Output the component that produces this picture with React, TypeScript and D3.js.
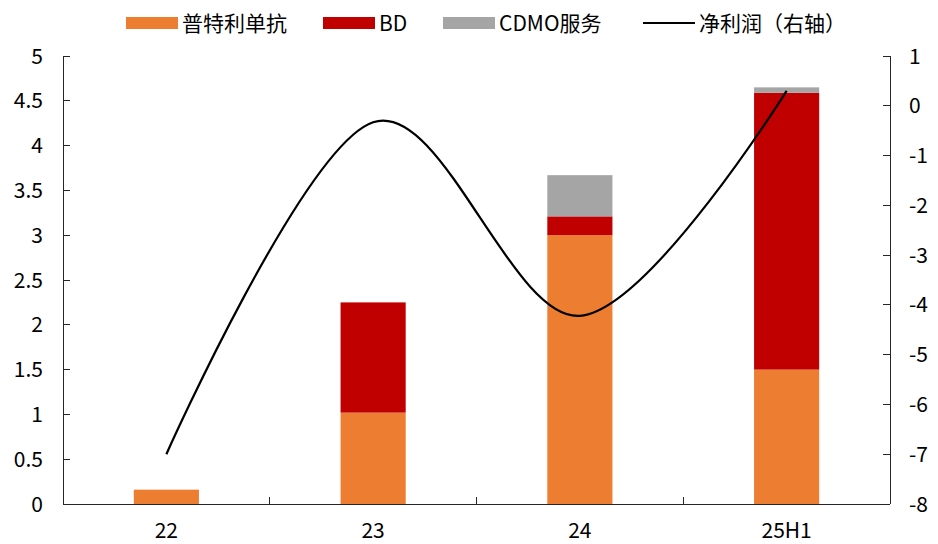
import React from "react";
import * as d3 from "d3";

// Revenue breakdown (left axis, 亿元) and net profit (right axis)
const categories = ["22", "23", "24", "25H1"];
const seriesNames = ["普特利单抗", "BD", "CDMO服务"];
const productRevenue = [0.16, 1.02, 3.0, 1.5];
const bdRevenue = [0, 1.23, 0.21, 3.09];
const cdmoRevenue = [0, 0, 0.46, 0.06];
const netProfit = [-7.0, -0.33, -4.22, 0.3];
const lineName = "净利润（右轴）";
const leftTicks = [0, 0.5, 1, 1.5, 2, 2.5, 3, 3.5, 4, 4.5, 5];
const rightTicks = [-8, -7, -6, -5, -4, -3, -2, -1, 0, 1];

const W = 938;
const H = 544;
const M = { left: 63, right: 890, top: 56, bottom: 504 };
const COLORS = ["#ED7D31", "#C00000", "#A5A5A5"];
const FONT = "'Noto Sans CJK SC', 'Noto Sans', sans-serif";
const AXIS = "#262626";
const TICK = 7;

export default function App() {
  const x = d3.scaleBand<string>().domain(categories).range([M.left, M.right]);
  const yL = d3.scaleLinear().domain([0, 5]).range([M.bottom, M.top]);
  const yR = d3.scaleLinear().domain([-8, 1]).range([M.bottom, M.top]);
  const barW = x.bandwidth() * 0.315;
  const cx = (c: string) => (x(c) as number) + x.bandwidth() / 2;

  const rows = categories.map((c, i) => ({
    c,
    v0: productRevenue[i],
    v1: bdRevenue[i],
    v2: cdmoRevenue[i],
  }));
  const stack = d3.stack<any>().keys(["v0", "v1", "v2"])(rows);

  const line = d3
    .line<number>()
    .x((_, i) => cx(categories[i]))
    .y((d) => yR(d))
    .curve(d3.curveCardinal.tension(0));

  const legend = [
    { x: 126, label: seriesNames[0], color: COLORS[0], kind: "box" },
    { x: 323, label: seriesNames[1], color: COLORS[1], kind: "box" },
    { x: 443, label: seriesNames[2], color: COLORS[2], kind: "box" },
    { x: 643, label: lineName, color: "#000", kind: "line" },
  ];

  const boundaries = categories.slice(1).map((c) => x(c) as number);

  return (
    <svg
      width={W}
      height={H}
      style={{ position: "absolute", left: 0, top: 0, background: "#fff" }}
      fontFamily={FONT}
    >
      {/* stacked bars */}
      {stack.map((layer, si) =>
        layer.map((d, i) => {
          const h = yL(d[0]) - yL(d[1]);
          if (h <= 0) return null;
          return (
            <rect
              key={`${si}-${i}`}
              x={cx(categories[i]) - barW / 2}
              y={yL(d[1])}
              width={barW}
              height={h}
              fill={COLORS[si]}
            />
          );
        })
      )}

      {/* net profit line */}
      <path d={line(netProfit) || ""} fill="none" stroke="#000" strokeWidth={2.2} />

      {/* axes */}
      <g stroke={AXIS} strokeWidth={1} shapeRendering="crispEdges">
        <line x1={M.left} x2={M.left} y1={M.top} y2={M.bottom} />
        <line x1={M.right} x2={M.right} y1={M.top} y2={M.bottom} />
        <line x1={M.left} x2={M.right} y1={M.bottom} y2={M.bottom} />
        {leftTicks.map((t) => (
          <line key={`lt${t}`} x1={M.left} x2={M.left + TICK} y1={yL(t)} y2={yL(t)} />
        ))}
        {rightTicks.map((t) => (
          <line key={`rt${t}`} x1={M.right - TICK} x2={M.right} y1={yR(t)} y2={yR(t)} />
        ))}
        {boundaries.map((b, i) => (
          <line key={`xt${i}`} x1={b} x2={b} y1={M.bottom - TICK} y2={M.bottom} />
        ))}
      </g>

      <g fontSize={21} fill="#000">
        {leftTicks.map((t) => (
          <text key={`ll${t}`} x={43} y={yL(t)} dy="0.36em" textAnchor="end">
            {t}
          </text>
        ))}
        {rightTicks.map((t) => (
          <text key={`rl${t}`} x={909} y={yR(t)} dy="0.36em" textAnchor="start">
            {t}
          </text>
        ))}
        {categories.map((c) => (
          <text key={`xl${c}`} x={cx(c)} y={538} textAnchor="middle">
            {c}
          </text>
        ))}
      </g>

      {/* legend */}
      <g fontSize={21} fill="#000">
        {legend.map((l) => (
          <g key={l.label}>
            {l.kind === "box" ? (
              <rect x={l.x} y={17} width={52} height={12} fill={l.color} />
            ) : (
              <line x1={l.x} x2={l.x + 52} y1={23} y2={23} stroke={l.color} strokeWidth={2.2} />
            )}
            <text x={l.x + 56} y={23} dy="0.36em">
              {l.label}
            </text>
          </g>
        ))}
      </g>
    </svg>
  );
}
